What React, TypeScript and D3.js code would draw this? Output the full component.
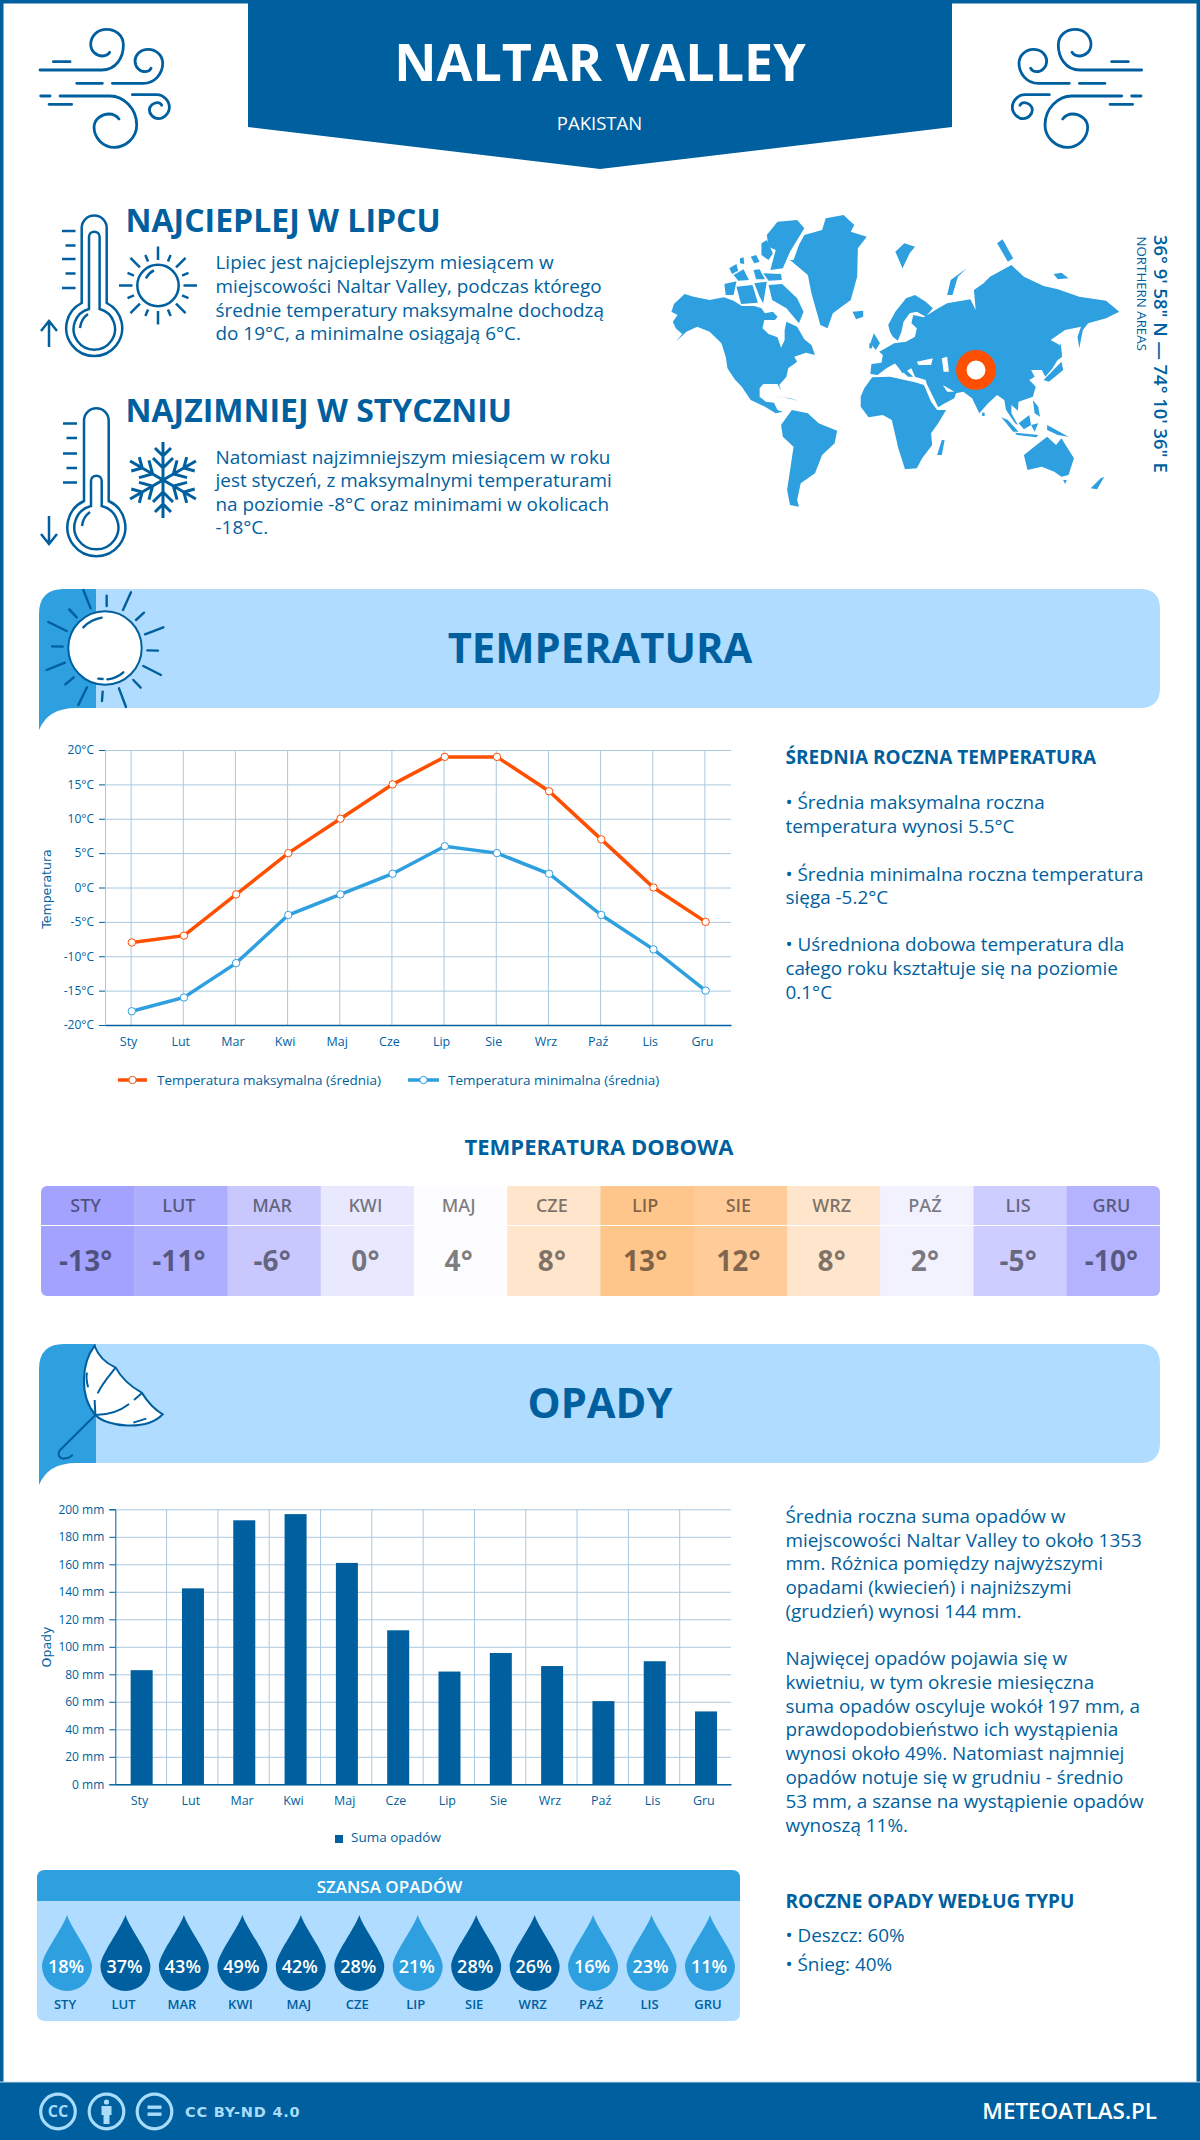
import { useEffect, useRef } from 'react';
import * as d3 from 'd3';

const DARK = '#005f9e';
const MID = '#2e9fdf';
const LIGHT = '#b0dcff';
const ORANGE = '#ff4f00';
const GRID = '#aac8de';
const FONT = '"Open Sans", sans-serif';
const BODY = 18.9;

// chart data
const months = ['Sty', 'Lut', 'Mar', 'Kwi', 'Maj', 'Cze', 'Lip', 'Sie', 'Wrz', 'Paź', 'Lis', 'Gru'];
const monthsUpper = ['STY', 'LUT', 'MAR', 'KWI', 'MAJ', 'CZE', 'LIP', 'SIE', 'WRZ', 'PAŹ', 'LIS', 'GRU'];
const tempMax = [-8, -7, -1, 5, 10, 15, 19, 19, 14, 7, 0, -5];
const tempMin = [-18, -16, -11, -4, -1, 2, 6, 5, 2, -4, -9, -15];
const tempDaily = [-13, -11, -6, 0, 4, 8, 13, 12, 8, 2, -5, -10];
const precip = [83, 142.5, 192, 196.5, 161, 112, 82, 95.5, 86, 60.5, 89.5, 53];
const rainChance = [18, 37, 43, 49, 42, 28, 21, 28, 26, 16, 23, 11];
const tempTicks = [-20, -15, -10, -5, 0, 5, 10, 15, 20];
const precipTicks = [0, 20, 40, 60, 80, 100, 120, 140, 160, 180, 200];

// text blocks
const hotLines = ['Lipiec jest najcieplejszym miesiącem w', 'miejscowości Naltar Valley, podczas którego', 'średnie temperatury maksymalne dochodzą', 'do 19°C, a minimalne osiągają 6°C.'];
const hotBaselines = [269, 292.5, 316.5, 340];
const coldLines = ['Natomiast najzimniejszym miesiącem w roku', 'jest styczeń, z maksymalnymi temperaturami', 'na poziomie -8°C oraz minimami w okolicach', '-18°C.'];
const coldBaselines = [463.5, 487, 510.5, 534];
const tempNotes = ['• Średnia maksymalna roczna', 'temperatura wynosi 5.5°C', '• Średnia minimalna roczna temperatura', 'sięga -5.2°C', '• Uśredniona dobowa temperatura dla', 'całego roku kształtuje się na poziomie', '0.1°C'];
const tempNoteBaselines = [809, 832.5, 880.5, 904, 951, 975, 999];
const precipNotes = ['Średnia roczna suma opadów w', 'miejscowości Naltar Valley to około 1353', 'mm. Różnica pomiędzy najwyższymi', 'opadami (kwiecień) i najniższymi', '(grudzień) wynosi 144 mm.', 'Najwięcej opadów pojawia się w', 'kwietniu, w tym okresie miesięczna', 'suma opadów oscyluje wokół 197 mm, a', 'prawdopodobieństwo ich wystąpienia', 'wynosi około 49%. Natomiast najmniej', 'opadów notuje się w grudniu - średnio', '53 mm, a szanse na wystąpienie opadów', 'wynoszą 11%.'];
const precipNoteBaselines = [1522.5, 1546.5, 1570, 1594, 1618, 1665, 1689, 1712.5, 1736, 1760, 1784, 1808, 1831.5];

// world map outlines
const land: [number, number][][] = [
  [[88,395],[95,372],[125,342],[150,350],[195,360],[235,352],[262,362],[285,378],[320,378],[340,385],[350,400],[372,395],[385,410],[378,420],[348,420],[343,445],[360,462],[385,472],[395,503],[405,480],[405,450],[410,425],[440,440],[460,478],[480,495],[490,525],[465,518],[432,530],[440,545],[415,565],[410,590],[390,615],[395,632],[385,612],[345,612],[335,625],[335,650],[352,665],[375,668],[385,690],[400,695],[380,700],[350,680],[310,660],[285,620],[265,598],[245,565],[240,530],[228,490],[195,455],[160,440],[130,455],[100,485],[118,462],[100,445],[92,425],[105,405]],
  [[430,240],[445,195],[460,165],[510,150],[520,115],[570,105],[600,135],[590,155],[635,170],[610,205],[608,290],[590,360],[540,400],[525,445],[505,435],[480,340],[470,285],[420,240]],
  [[355,165],[385,125],[440,120],[460,145],[420,215],[400,265],[365,270],[380,210],[360,200]],
  [[340,190],[355,180],[372,220],[360,240],[340,225]],
  [[360,315],[398,312],[440,355],[458,395],[445,430],[410,385],[370,360]],
  [[318,270],[335,268],[350,298],[325,298]],
  [[262,285],[290,268],[305,300],[275,302]],
  [[250,265],[270,252],[275,272],[258,282]],
  [[345,280],[395,282],[397,300],[360,302]],
  [[236,312],[270,304],[262,345],[240,345]],
  [[270,320],[315,315],[330,368],[283,372]],
  [[320,310],[355,305],[345,370],[335,350]],
  [[310,230],[325,225],[335,245],[320,250]],
  [[280,235],[290,232],[292,252],[280,250]],
  [[595,395],[625,392],[625,410],[605,418]],
  [[360,645],[420,655],[445,662],[400,652]],
  [[395,735],[425,690],[470,700],[500,730],[552,752],[545,790],[510,825],[490,880],[450,910],[440,960],[445,980],[420,975],[412,930],[430,800],[400,770]],
  [[618,650],[628,625],[650,592],[700,590],[770,607],[795,615],[815,665],[832,690],[857,690],[835,730],[815,760],[818,795],[790,835],[775,865],[742,868],[722,800],[718,780],[705,720],[680,705],[640,712],[618,680]],
  [[845,780],[853,780],[845,825],[832,825]],
  [[645,490],[655,460],[672,490],[660,510]],
  [[642,490],[650,490],[650,505],[642,505]],
  [[695,435],[715,395],[745,355],[770,345],[800,365],[820,385],[800,410],[775,395],[755,400],[738,425],[732,455],[722,482],[708,470],[700,455]],
  [[645,582],[648,552],[676,548],[680,525],[670,515],[712,490],[745,485],[770,470],[775,445],[760,430],[765,405],[795,412],[835,385],[860,370],[925,358],[940,390],[935,330],[962,310],[980,290],[1040,255],[1075,290],[1130,318],[1170,328],[1230,350],[1305,362],[1342,395],[1305,415],[1255,430],[1240,450],[1230,505],[1225,470],[1235,440],[1190,450],[1150,480],[1175,495],[1175,530],[1155,565],[1135,590],[1125,570],[1095,570],[1105,590],[1090,600],[1108,620],[1100,650],[1060,665],[1058,692],[1040,675],[1040,700],[1058,735],[1050,730],[1025,690],[1020,660],[1000,645],[975,670],[950,700],[930,655],[905,635],[885,640],[880,655],[850,672],[835,682],[803,612],[800,600],[770,590],[760,565],[735,580],[715,550],[690,565],[665,585]],
  [[712,548],[722,545],[765,590],[750,590]],
  [[958,698],[965,698],[965,708],[958,708]],
  [[1012,712],[1030,720],[1060,755],[1045,755]],
  [[1050,758],[1115,765],[1110,772],[1055,765]],
  [[1060,730],[1090,705],[1095,735],[1075,748]],
  [[1095,735],[1115,730],[1105,755]],
  [[1140,735],[1200,770],[1170,765],[1140,750]],
  [[1100,660],[1115,680],[1120,710],[1105,700]],
  [[1130,600],[1180,545],[1185,570],[1145,605]],
  [[1165,520],[1178,490],[1182,530],[1170,540]],
  [[1075,825],[1110,795],[1140,770],[1165,795],[1180,775],[1215,835],[1200,885],[1180,890],[1160,875],[1125,860],[1085,870]],
  [[1185,900],[1195,900],[1190,912]],
  [[1262,925],[1290,895],[1300,890],[1280,928]],
  [[715,215],[740,190],[770,200],[755,220],[735,265]],
  [[860,345],[870,300],[915,265],[890,290],[875,345]],
  [[1000,190],[1015,178],[1045,235],[1030,245]],
  [[1158,282],[1180,278],[1200,295],[1170,298]],
];
const seas: [number, number][][] = [
  [[775,545],[820,535],[815,555],[780,555]],
  [[845,535],[860,530],[865,575],[850,575]],
  [[848,615],[880,635],[860,635]],
];

const drawArea = d3.line().curve(d3.curveLinearClosed);
const W1 = 'M455,180 L270,180 C225,180 205,140 205,105 C205,75 230,58 255,58 C285,58 303,80 303,103 C303,125 285,138 268,138 C258,138 250,133 246,127 M365,155 L415,155 M238,220 L145,220 C110,220 87,190 87,160 C87,135 108,118 130,118 C155,118 170,135 170,153 C170,172 155,185 140,185 C132,185 125,181 122,175 M268,220 L345,220 M395,258 L245,258 C205,258 165,295 165,345 C165,385 200,412 232,412 C265,412 293,385 293,352 C293,328 270,312 248,312 C235,312 225,318 218,327 M425,258 L453,258 M360,283 L428,283 M178,254 L105,254 C85,254 67,272 67,292 C67,312 85,326 100,326 C115,326 127,312 127,300 C127,288 115,278 103,278 C97,278 92,281 90,286';
const bigSunRays = 'M160,30L182,85M230,47L230,78M303,37L279,90M342,98L318,120M400,142L345,163M384,212L352,211M393,285L340,258M332,323L310,300M288,381L267,325M216,363L218,335M145,375L171,322M106,313L131,292M50,270L105,248M66,199L98,200M55,126L110,153M118,88L140,112';

function Banner({ y, title }: { y: number; title: string }) {
  const b = y + 119;
  return (
    <g>
      <path d={`M96,${y} H1140 Q1160,${y} 1160,${y + 20} V${b - 20} Q1160,${b} 1140,${b} H96 Z`} fill={LIGHT} />
      <path d={`M39,${y + 141} V${y + 25} Q39,${y} 64,${y} H96 V${b} H76 Q48,${b} 39,${y + 141} Z`} fill={MID} />
      <text x={600} y={y + 74} textAnchor="middle" fontSize={41.7} fontWeight={700} fill={DARK}>{title}</text>
    </g>
  );
}

function TempChart() {
  const ref = useRef<SVGGElement>(null);
  const left = 105, right = 731, top = 750, bottom = 1025;
  const x = d3.scaleBand().domain(months).range([left, right]);
  const y = d3.scaleLinear().domain([-20, 20]).range([bottom, top]);
  const cx = (i: number) => x(months[i])! + x.bandwidth() / 2 + 0.7;
  const line = d3.line<number>().x((_, i) => cx(i)).y((d) => y(d));

  useEffect(() => {
    const g = d3.select(ref.current);
    g.selectAll('*').remove();
    const gy = g.append('g').attr('transform', `translate(${left},0)`);
    gy.call(d3.axisLeft(y).tickValues(tempTicks).tickSize(-(right - left)).tickFormat(() => ''));
    gy.selectAll('line').attr('stroke', GRID);
    gy.select('.domain').remove();
    const gx = g.append('g').attr('transform', `translate(0,${bottom})`);
    gx.call(d3.axisBottom(x).tickSize(-(bottom - top)).tickFormat(() => ''));
    gx.selectAll('line').attr('stroke', GRID);
    gx.select('.domain').remove();
    const ay = g.append('g').attr('transform', `translate(${left},0)`);
    ay.call(d3.axisLeft(y).tickValues(tempTicks).tickSize(6).tickPadding(5).tickFormat((d) => `${d}°C`));
    ay.selectAll('line').attr('stroke', DARK);
    ay.select('.domain').attr('stroke', GRID);
    ay.selectAll('text').attr('fill', DARK).attr('font-size', 12).attr('font-family', FONT);
    const ax = g.append('g').attr('transform', `translate(0,${bottom})`);
    ax.call(d3.axisBottom(x).tickSize(0).tickPadding(12).tickFormat((d) => d as string));
    ax.selectAll('text').attr('fill', DARK).attr('font-size', 12.5).attr('font-family', FONT).attr('dx', -2.5);
    ax.select('.domain').attr('stroke', DARK).attr('stroke-width', 1.5);
  }, []);

  return (
    <g>
      <g ref={ref} />
      <text transform="translate(51,889) rotate(-90)" textAnchor="middle" fontSize={12.5} fontFamily="DejaVu Sans" fill={DARK}>Temperatura</text>
      <path d={line(tempMax)!} fill="none" stroke={ORANGE} strokeWidth={3.5} />
      <path d={line(tempMin)!} fill="none" stroke={MID} strokeWidth={3.5} />
      {tempMax.map((d, i) => <circle key={i} cx={cx(i)} cy={y(d)} r={3.7} fill="#fff" stroke={ORANGE} />)}
      {tempMin.map((d, i) => <circle key={i} cx={cx(i)} cy={y(d)} r={3.7} fill="#fff" stroke={MID} />)}
      <line x1={118} x2={147} y1={1080} y2={1080} stroke={ORANGE} strokeWidth={3.5} />
      <circle cx={132.5} cy={1080} r={3.7} fill="#fff" stroke={ORANGE} />
      <text x={157} y={1084.5} fontSize={13.5} fill={DARK}>Temperatura maksymalna (średnia)</text>
      <line x1={408} x2={439} y1={1080} y2={1080} stroke={MID} strokeWidth={3.5} />
      <circle cx={423.5} cy={1080} r={3.7} fill="#fff" stroke={MID} />
      <text x={448} y={1084.5} fontSize={13.5} fill={DARK}>Temperatura minimalna (średnia)</text>
    </g>
  );
}

function PrecipChart() {
  const ref = useRef<SVGGElement>(null);
  const left = 115.3, right = 731, top = 1509.3, bottom = 1784.3;
  const x = d3.scaleBand().domain(months).range([left, right]).paddingInner(0).paddingOuter(0);
  const y = d3.scaleLinear().domain([0, 200]).range([bottom, top]);
  const barW = 22;

  useEffect(() => {
    const g = d3.select(ref.current);
    g.selectAll('*').remove();
    const gy = g.append('g').attr('transform', `translate(${left},0)`);
    gy.call(d3.axisLeft(y).tickValues(precipTicks).tickSize(-(right - left)).tickFormat(() => ''));
    gy.selectAll('line').attr('stroke', GRID);
    gy.select('.domain').remove();
    g.append('g').selectAll('line').data(months.slice(1)).join('line')
      .attr('x1', (d) => x(d)!).attr('x2', (d) => x(d)!)
      .attr('y1', top).attr('y2', bottom).attr('stroke', GRID);
    const ay = g.append('g').attr('transform', `translate(${left},0)`);
    ay.call(d3.axisLeft(y).tickValues(precipTicks).tickSize(6).tickPadding(5).tickFormat((d) => `${d} mm`));
    ay.selectAll('line').attr('stroke', DARK);
    ay.select('.domain').attr('stroke', DARK);
    ay.selectAll('text').attr('fill', DARK).attr('font-size', 12).attr('font-family', FONT);
    const ax = g.append('g').attr('transform', `translate(0,${bottom})`);
    ax.call(d3.axisBottom(x).tickSize(0).tickPadding(12).tickFormat((d) => d as string));
    ax.selectAll('text').attr('fill', DARK).attr('font-size', 12.5).attr('font-family', FONT).attr('dx', -1.5);
    ax.select('.domain').attr('stroke', DARK).attr('stroke-width', 1.5);
  }, []);

  return (
    <g>
      <g ref={ref} />
      {precip.map((d, i) => (
        <rect key={i} x={x(months[i])! + x.bandwidth() / 2 - barW / 2 + 0.7} y={y(d)} width={barW} height={y(0) - y(d)} fill={DARK} />
      ))}
      <text transform="translate(51,1647) rotate(-90)" textAnchor="middle" fontSize={12.5} fontFamily="DejaVu Sans" fill={DARK}>Opady</text>
      <rect x={335} y={1835} width={8} height={8} fill={DARK} />
      <text x={351} y={1842} fontSize={13.5} fill={DARK}>Suma opadów</text>
    </g>
  );
}

function DailyTable() {
  const x = d3.scaleBand().domain(monthsUpper).range([41, 1160]);
  const color = d3.scaleLinear<string>().domain([-13, 4, 13]).range(['#a3a3ff', '#fdfdff', '#ffc68c']);
  return (
    <g>
      <clipPath id="tableClip"><rect x={41} y={1186} width={1119} height={110} rx={6} /></clipPath>
      <g clipPath="url(#tableClip)">
        {tempDaily.map((d, i) => (
          <rect key={i} x={x(monthsUpper[i])!} y={1186} width={x.bandwidth() + 0.5} height={110} fill={color(d)} />
        ))}
        <line x1={41} x2={1160} y1={1225.5} y2={1225.5} stroke="#fff" />
      </g>
      {tempDaily.map((d, i) => {
        const mid = x(monthsUpper[i])! + x.bandwidth() / 2 - 2;
        return (
          <g key={i} fill="#000" fillOpacity={0.5} textAnchor="middle">
            <text x={mid} y={1212} fontSize={18} fontWeight={600}>{monthsUpper[i]}</text>
            <text x={mid} y={1270.5} fontSize={28} fontWeight={700}>{d}°</text>
          </g>
        );
      })}
    </g>
  );
}

function Drops() {
  const x = d3.scalePoint().domain(monthsUpper).range([67, 710]);
  return (
    <g>
      <path d="M37,1901 V1878 Q37,1870 45,1870 H732 Q740,1870 740,1878 V1901 Z" fill={MID} />
      <path d="M37,1901 H740 V2013 Q740,2021 732,2021 H45 Q37,2021 37,2013 Z" fill={LIGHT} />
      <text x={389.5} y={1893} textAnchor="middle" fontSize={17} fontWeight={600} fill="#fff">SZANSA OPADÓW</text>
      {rainChance.map((d, i) => {
        const cx = x(monthsUpper[i])!;
        return (
          <g key={i} transform={`translate(${cx},1966)`}>
            <path d="M0,-51 C-5,-36 -25,-12 -25,0 A25,25 0 0 0 25,0 C25,-12 5,-36 0,-51 Z" fill={d > 25 ? DARK : MID} />
            <text x={-1} y={7} textAnchor="middle" fontSize={18} fontWeight={600} fill="#fff">{d}%</text>
            <text x={-2} y={43} textAnchor="middle" fontSize={13} fontWeight={600} fill={DARK}>{monthsUpper[i]}</text>
          </g>
        );
      })}
    </g>
  );
}

function Snowflake() {
  return (
    <g transform="translate(163,480)" fill="none" stroke={DARK} strokeWidth={3}>
      {d3.range(6).map((i) => (
        <g key={i} transform={`rotate(${i * 60})`}>
          <path d="M0,0 V-38 M-8,-32 L0,-24 L8,-32 M-10,-22 L0,-12 L10,-22" />
        </g>
      ))}
    </g>
  );
}

function SmallSun() {
  return (
    <g transform="translate(158,285.5)" fill="none" stroke={DARK} strokeWidth={2.5}>
      <circle r={20.7} />
      <path d="M-12,-7 Q-9,-13 -4,-15" />
      {d3.range(8).map((i) => <line key={i} y1={-25.5} y2={-39} transform={`rotate(${i * 45})`} />)}
      {d3.range(8).map((i) => <line key={`s${i}`} y1={-26} y2={-33} transform={`rotate(${i * 45 + 22.5})`} />)}
    </g>
  );
}

function Footer() {
  return (
    <g>
      <rect x={0} y={2082} width={1200} height={58} fill={DARK} />
      <line x1={0} x2={1200} y1={2082} y2={2082} stroke="#c7dcea" />
      <g fill="none" stroke="#a9dcfb" strokeWidth={3.2}>
        <circle cx={58} cy={2111.5} r={17.3} />
        <circle cx={106.5} cy={2111.5} r={17.3} />
        <circle cx={154.5} cy={2111.5} r={17.3} />
      </g>
      <text x={58} y={2117} textAnchor="middle" fontSize={16} fontWeight={700} fill="#a9dcfb">CC</text>
      <circle cx={106.5} cy={2102} r={2.6} fill="#a9dcfb" />
      <path d="M101.5,2106 H111.5 V2115 H109.5 V2124 H103.5 V2115 H101.5 Z" fill="#a9dcfb" />
      <rect x={147.5} y={2105.5} width={14} height={3.4} fill="#a9dcfb" />
      <rect x={147.5} y={2112.5} width={14} height={3.4} fill="#a9dcfb" />
      <text x={185} y={2117} fontSize={14.5} fontWeight={700} letterSpacing={0.8} fontFamily="DejaVu Sans" fill="#a9dcfb">CC BY-ND 4.0</text>
      <text x={1157} y={2119} textAnchor="end" fontSize={22.4} fontWeight={600} fill="#fff">METEOATLAS.PL</text>
    </g>
  );
}

export default function App() {
  return (
    <svg width={1200} height={2140} viewBox="0 0 1200 2140" fontFamily={FONT} style={{ position: 'absolute', left: 0, top: 0 }}>
      <rect x={0} y={0} width={1200} height={2140} fill="#fff" />
      <rect x={1.75} y={1.75} width={1196.5} height={2136.5} fill="none" stroke={DARK} strokeWidth={3.5} />

      {/* header */}
      <path d="M248,0 H952 V127 L600,169 L248,127 Z" fill={DARK} />
      <text x={600} y={81} textAnchor="middle" fontSize={52} fontWeight={700} fill="#fff">NALTAR VALLEY</text>
      <text x={599.5} y={130} textAnchor="middle" fontSize={18.5} fill="#fff">PAKISTAN</text>
      <g fill="none" stroke={DARK} strokeWidth={2.8} strokeLinecap="round">
        <path d={W1} transform="translate(990,10) scale(0.3333)" vectorEffect="non-scaling-stroke" />
        <path d={W1} transform="translate(191.7,10) scale(-0.3333,0.3333)" vectorEffect="non-scaling-stroke" />
      </g>

      {/* hottest / coldest month */}
      <text x={125.5} y={231.5} fontSize={32} fontWeight={700} fill={DARK}>NAJCIEPLEJ W LIPCU</text>
      {hotLines.map((t, i) => <text key={i} x={215.5} y={hotBaselines[i]} fontSize={BODY} fill={DARK}>{t}</text>)}
      <text x={125.5} y={421.5} fontSize={32} fontWeight={700} fill={DARK}>NAJZIMNIEJ W STYCZNIU</text>
      {coldLines.map((t, i) => <text key={i} x={215.5} y={coldBaselines[i]} fontSize={BODY} fill={DARK}>{t}</text>)}
      <g fill="none" stroke={DARK} strokeWidth={2.5} strokeLinecap="butt">
        <path d="M81.7,303 V228 A12.5,12.5 0 0 1 106.7,228 V303 A28,28 0 1 1 81.7,303 Z" />
        <path d="M89,309 V237 A5.3,5.3 0 0 1 99.6,237 V309 A20.7,20.7 0 1 1 89,309 Z" />
        <path d="M80,328 Q81,319 88,314" />
        <path d="M62,231H75.5M65.5,245.5H75.5M62,259H75.5M65.5,273.5H75.5M62,288H75.5" />
        <path d="M49,347V321M41,331L49,321L57,331" />
        <path d="M84,501 V420.5 A12.3,12.3 0 0 1 108.7,420.5 V501 A29,29 0 1 1 84,501 Z" />
        <path d="M91,506 V481 A5.3,5.3 0 0 1 101.7,481 V506 A22,22 0 1 1 91,506 Z" />
        <path d="M82,526 Q83,517 90,512" />
        <path d="M63,423.5H77M66.5,438H77M63,453.5H77M66.5,468H77M63,482.5H77" />
        <path d="M49,516V543M41,534L49,544L57,534" />
      </g>
      <SmallSun />
      <Snowflake />

      {/* map */}
      <g transform="translate(640,180) scale(0.35714,0.33333)">
        {land.map((p, i) => <path key={i} d={drawArea(p)!} fill={MID} />)}
        {seas.map((p, i) => <path key={i} d={drawArea(p)!} fill="#fff" />)}
      </g>
      <circle cx={976} cy={370} r={14.7} fill="#fff" stroke={ORANGE} strokeWidth={10.5} />
      <text transform="translate(1154,235) rotate(90)" fontSize={18.4} fontWeight={600} fill={DARK}>36° 9' 58" N — 74° 10' 36" E</text>
      <text transform="translate(1137,236.5) rotate(90)" fontSize={13.3} fill={DARK}>NORTHERN AREAS</text>

      {/* temperature */}
      <Banner y={589} title="TEMPERATURA" />
      <circle cx={105} cy={648} r={36.7} fill="#fff" stroke={DARK} strokeWidth={2} />
      <g transform="translate(30,580) scale(0.3333)" fill="none" stroke={DARK} strokeWidth={2.4} strokeLinecap="round">
        <path d={bigSunRays} vectorEffect="non-scaling-stroke" />
        <path d="M160,142 Q180,120 215,113 M205,296 L218,297 M232,298 Q260,295 280,277" vectorEffect="non-scaling-stroke" />
      </g>
      <TempChart />
      <text x={785.5} y={764} fontSize={19} fontWeight={700} fill={DARK}>ŚREDNIA ROCZNA TEMPERATURA</text>
      {tempNotes.map((t, i) => <text key={i} x={785.5} y={tempNoteBaselines[i]} fontSize={BODY} fill={DARK}>{t}</text>)}

      <text x={599} y={1155} textAnchor="middle" fontSize={22} fontWeight={700} fill={DARK}>TEMPERATURA DOBOWA</text>
      <DailyTable />

      {/* precipitation */}
      <Banner y={1344} title="OPADY" />
      <g transform="translate(20,1130) scale(0.3827,0.3333)" fill="none" stroke={DARK} strokeWidth={2}>
        <path d="M197,855 L105,960 C95,975 105,990 120,985 C130,985 135,975 138,975" vectorEffect="non-scaling-stroke" />
        <path d="M195,648 C160,700 155,800 197,855 C225,890 330,905 373,853 C345,835 330,810 318,788 C290,770 265,745 250,713 C225,700 205,680 195,648 Z" fill="#fff" vectorEffect="non-scaling-stroke" />
        <path d="M197,855 C240,855 265,840 285,822 M298,810 L318,790 M197,855 L195,810 M203,790 C215,760 235,735 250,713 M175,728 C172,745 175,760 178,772 M296,878 L330,866" vectorEffect="non-scaling-stroke" />
      </g>
      <PrecipChart />
      {precipNotes.map((t, i) => <text key={i} x={785.5} y={precipNoteBaselines[i]} fontSize={BODY} fill={DARK}>{t}</text>)}
      <text x={785.5} y={1908} fontSize={19} fontWeight={700} fill={DARK}>ROCZNE OPADY WEDŁUG TYPU</text>
      <text x={785.5} y={1941.5} fontSize={BODY} fill={DARK}>• Deszcz: 60%</text>
      <text x={785.5} y={1970.5} fontSize={BODY} fill={DARK}>• Śnieg: 40%</text>
      <Drops />

      <Footer />
    </svg>
  );
}
